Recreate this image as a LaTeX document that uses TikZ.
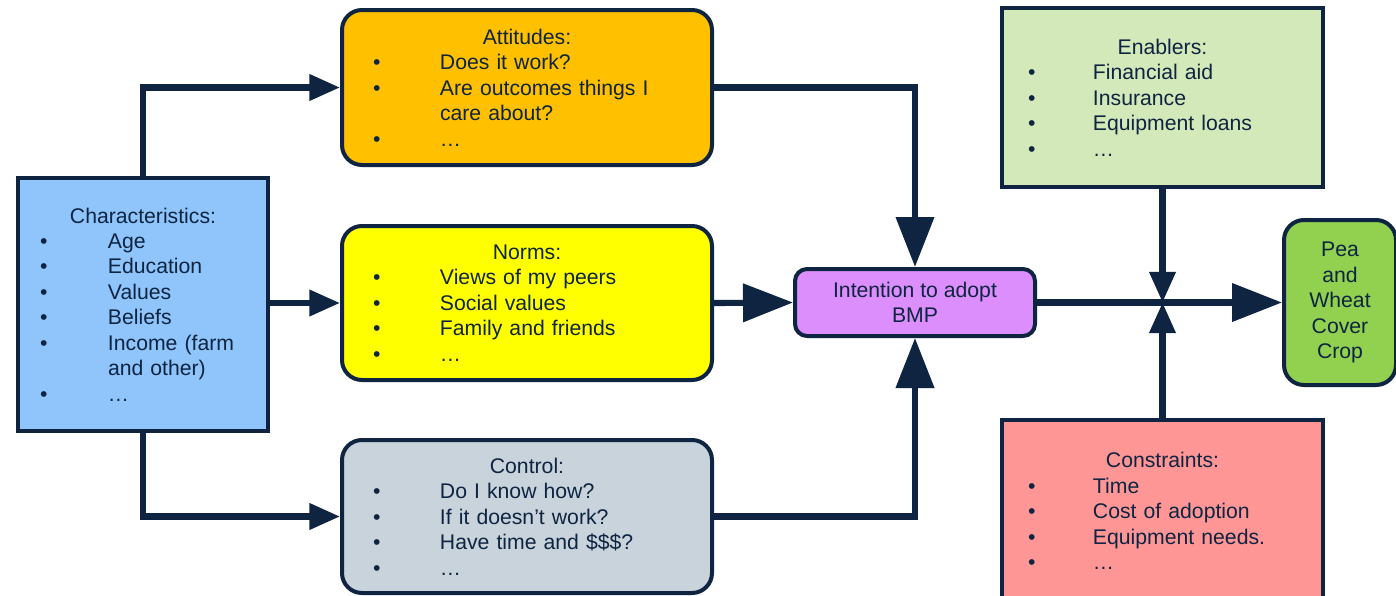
\documentclass[tikz,border=0pt]{standalone}
\usepackage{fontspec}
\setmainfont{Liberation Sans}
\usetikzlibrary{arrows.meta}

\definecolor{navy}{HTML}{0E2441}
\definecolor{fillblue}{HTML}{8FC5FB}
\definecolor{fillorange}{HTML}{FFC000}
\definecolor{fillyellow}{HTML}{FFFF00}
\definecolor{fillgrey}{HTML}{C8D3DB}
\definecolor{fillviolet}{HTML}{DB8EFC}
\definecolor{fillpale}{HTML}{D4E9BA}
\definecolor{fillpink}{HTML}{FF9696}
\definecolor{fillgreen}{HTML}{92D050}

% bullet lines: indent of the bullet, then gap up to the item text
\newcommand\itm[2]{\hspace*{#1}\makebox[#2][l]{\textbullet}}
\newcommand\bch{\itm{16.5pt}{51pt}}
\newcommand\bmd{\itm{23.25pt}{50.25pt}}
\newcommand\brt{\itm{19.5pt}{48.75pt}}
\newcommand\ttl[2]{\makebox[#1][c]{#2}}

\tikzset{
  box/.style={draw=navy, line width=3pt, text=navy, inner xsep=0pt, inner ysep=0pt,
    font=\fontsize{15.9pt}{19.1pt}\selectfont},
  listbox/.style={box, align=left},
  roundbox/.style={box, rounded corners=15pt},
  conn/.style={draw=navy, line width=4.6pt},
  small/.style={-{Triangle[length=23pt,width=19pt]}},
  big/.style={-{Triangle[length=37.5pt,width=28pt]}},
}

\begin{document}
\begin{tikzpicture}[x=0.75pt, y=-0.75pt]
\useasboundingbox (0,0) rectangle (1396,596);
\clip (0,0) rectangle (1396,596);

% characteristics of the farmer
\node[listbox, fill=fillblue, minimum width=187.5pt, minimum height=189.75pt, text width=187.5pt]
  (ch) at (143,304.5) {\ttl{187.5pt}{Characteristics:}\\
  \bch Age\\
  \bch Education\\
  \bch Values\\
  \bch Beliefs\\
  \bch Income (farm\\
  \hspace*{67.5pt}and other)\\
  \bch …};

% the three belief groups
\node[listbox, roundbox, fill=fillorange, minimum width=277.5pt, minimum height=116.25pt, text width=277.5pt]
  (att) at (527,87.5) {\ttl{277.5pt}{Attitudes:}\\
  \bmd Does it work?\\
  \bmd Are outcomes things I\\
  \hspace*{73.5pt}care about?\\
  \bmd …};

\node[listbox, roundbox, fill=fillyellow, minimum width=277.5pt, minimum height=115.5pt, text width=277.5pt]
  (nor) at (527,303) {\ttl{277.5pt}{Norms:}\\
  \bmd Views of my peers\\
  \bmd Social values\\
  \bmd Family and friends\\
  \bmd …};

\node[listbox, roundbox, fill=fillgrey, minimum width=277.5pt, minimum height=114.75pt, text width=277.5pt]
  (con) at (527,516.5) {\ttl{277.5pt}{Control:}\\
  \bmd Do I know how?\\
  \bmd If it doesn’t work?\\
  \bmd Have time and \$\$\$?\\
  \bmd …};

% intention and outcome
\node[box, rounded corners=9pt, fill=fillviolet, align=center, minimum width=180pt, minimum height=50.25pt]
  (int) at (915,302.5) {Intention to adopt\\BMP};

\node[box, roundbox, fill=fillgreen, align=center, minimum width=84pt, minimum height=123.75pt]
  (pea) at (1340,302.5) {Pea\\and\\Wheat\\Cover\\Crop};

% enablers and constraints
\node[listbox, fill=fillpale, minimum width=240.75pt, minimum height=134.25pt, text width=240.75pt]
  (en) at (1162.5,97.5) {\ttl{240.75pt}{Enablers:}\\
  \brt Financial aid\\
  \brt Insurance\\
  \brt Equipment loans\\
  \brt …};

\node[listbox, fill=fillpink, minimum width=240.75pt, minimum height=136.5pt, text width=240.75pt]
  (cs) at (1162.5,511) {\ttl{240.75pt}{Constraints:}\\
  \brt Time\\
  \brt Cost of adoption\\
  \brt Equipment needs.\\
  \brt …};

% connectors
\coordinate (j) at (en.south |- int.east);

\draw[conn, small] (ch.north) |- (att.west);
\draw[conn, small] (ch.east |- nor.west) -- (nor.west);
\draw[conn, small] (ch.south) |- (con.west);

\draw[conn, big] (att.east) -| (int.north);
\draw[conn, big] (nor.east) -- (int.west);
\draw[conn, big] (con.east) -| (int.south);
\draw[conn, big] (int.east) -- (pea.west);

\draw[conn, small] (en.south) -- (j);
\draw[conn, small] (cs.north) -- (j);
\end{tikzpicture}
\end{document}
